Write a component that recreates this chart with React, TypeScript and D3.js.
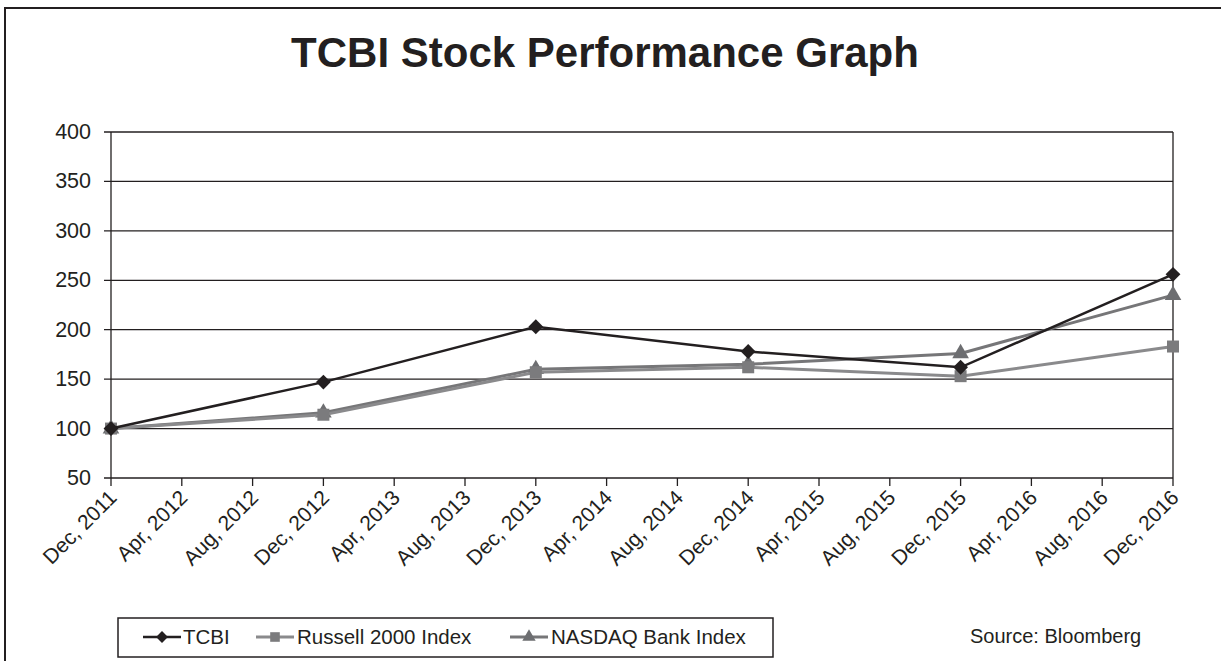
import React from 'react';
import * as d3 from 'd3';

const tickLabels = [
  'Dec, 2011', 'Apr, 2012', 'Aug, 2012', 'Dec, 2012', 'Apr, 2013', 'Aug, 2013',
  'Dec, 2013', 'Apr, 2014', 'Aug, 2014', 'Dec, 2014', 'Apr, 2015', 'Aug, 2015',
  'Dec, 2015', 'Apr, 2016', 'Aug, 2016', 'Dec, 2016',
];
const dates = ['Dec, 2011', 'Dec, 2012', 'Dec, 2013', 'Dec, 2014', 'Dec, 2015', 'Dec, 2016'];
const tcbi = [100, 147, 203, 178, 162, 256];
const russell = [100, 114, 157, 162, 153, 183];
const nasdaq = [100, 116, 160, 165, 176, 235];
const yTicks = [50, 100, 150, 200, 250, 300, 350, 400];

const series = [
  { name: 'TCBI', values: tcbi, stroke: '#231f20', fill: '#231f20', marker: 'diamond', width: 2.5 },
  { name: 'Russell 2000 Index', values: russell, stroke: '#8a8a8c', fill: '#7b7b7d', marker: 'square', width: 3 },
  { name: 'NASDAQ Bank Index', values: nasdaq, stroke: '#767678', fill: '#6d6e71', marker: 'triangle', width: 3 },
];

const W = 1221;
const H = 661;
const font = '"Liberation Sans", Arial, sans-serif';

const markerPath = (type: string) => {
  if (type === 'diamond') return d3.symbol(d3.symbolSquare, 110)()!;
  if (type === 'square') return d3.symbol(d3.symbolSquare, 144)()!;
  return d3.symbol(d3.symbolTriangle, 120)()!;
};

const App: React.FC = () => {
  const x = d3.scalePoint<string>().domain(tickLabels).range([111, 1173]);
  const y = d3.scaleLinear().domain([50, 400]).range([478, 132]);
  const line = d3.line<[string, number]>()
    .x(d => x(d[0])!)
    .y(d => y(d[1]));

  // legend sample start + text start
  const legendItems = [
    { x: 143, textX: 183 },
    { x: 256, textX: 297 },
    { x: 510, textX: 551 },
  ];

  return (
    <svg width={W} height={H} style={{ position: 'absolute', left: 0, top: 0, background: '#fff' }}
      fontFamily={font}>
      <rect x={5} y={8} width={1230} height={670} fill="#fff" stroke="#231f20" strokeWidth={2} />
      <text x={605} y={67} textAnchor="middle" fontSize={42} fontWeight="bold" fill="#231f20">
        TCBI Stock Performance Graph
      </text>

      {/* grid + y axis */}
      {yTicks.map(t => (
        <g key={t}>
          <line x1={104} x2={1173} y1={y(t)} y2={y(t)} stroke="#231f20" strokeWidth={1.3} />
          <text x={91} y={y(t) + 7} textAnchor="end" fontSize={21.5} fill="#231f20">{t}</text>
        </g>
      ))}
      <line x1={111} x2={111} y1={132} y2={478} stroke="#231f20" strokeWidth={1.3} />
      <line x1={1173} x2={1173} y1={132} y2={478} stroke="#231f20" strokeWidth={1.3} />

      {/* x ticks */}
      {tickLabels.map(l => (
        <g key={l}>
          <line x1={x(l)} x2={x(l)} y1={478} y2={486} stroke="#231f20" strokeWidth={1.3} />
          <text transform={`translate(${x(l)! + 7},${499}) rotate(-45)`} textAnchor="end"
            fontSize={21} fill="#231f20">{l}</text>
        </g>
      ))}

      {/* series */}
      {[...series].reverse().map(s => {
        const pts = dates.map((d, i) => [d, s.values[i]] as [string, number]);
        return (
          <g key={s.name}>
            <path d={line(pts)!} fill="none" stroke={s.stroke} strokeWidth={s.width} />
            {pts.map(p => (
              <path key={p[0]} d={markerPath(s.marker)} fill={s.fill}
                transform={`translate(${x(p[0])},${y(p[1])})${s.marker === 'diamond' ? ' rotate(45)' : ''}`} />
            ))}
          </g>
        );
      })}

      {/* legend */}
      <rect x={118} y={618} width={655} height={39} fill="#fff" stroke="#231f20" strokeWidth={1.5} />
      {series.map((s, i) => {
        const it = legendItems[i];
        return (
          <g key={s.name}>
            <line x1={it.x} x2={it.x + 38} y1={637} y2={637} stroke={s.stroke} strokeWidth={s.width} />
            <path d={markerPath(s.marker)} fill={s.fill}
              transform={`translate(${it.x + 19},637) scale(0.8)${s.marker === 'diamond' ? ' rotate(45)' : ''}`} />
            <text x={it.textX} y={644} fontSize={20.5} fill="#231f20">{s.name}</text>
          </g>
        );
      })}
      <text x={970} y={643} fontSize={20} fill="#231f20">Source: Bloomberg</text>
    </svg>
  );
};

export default App;
